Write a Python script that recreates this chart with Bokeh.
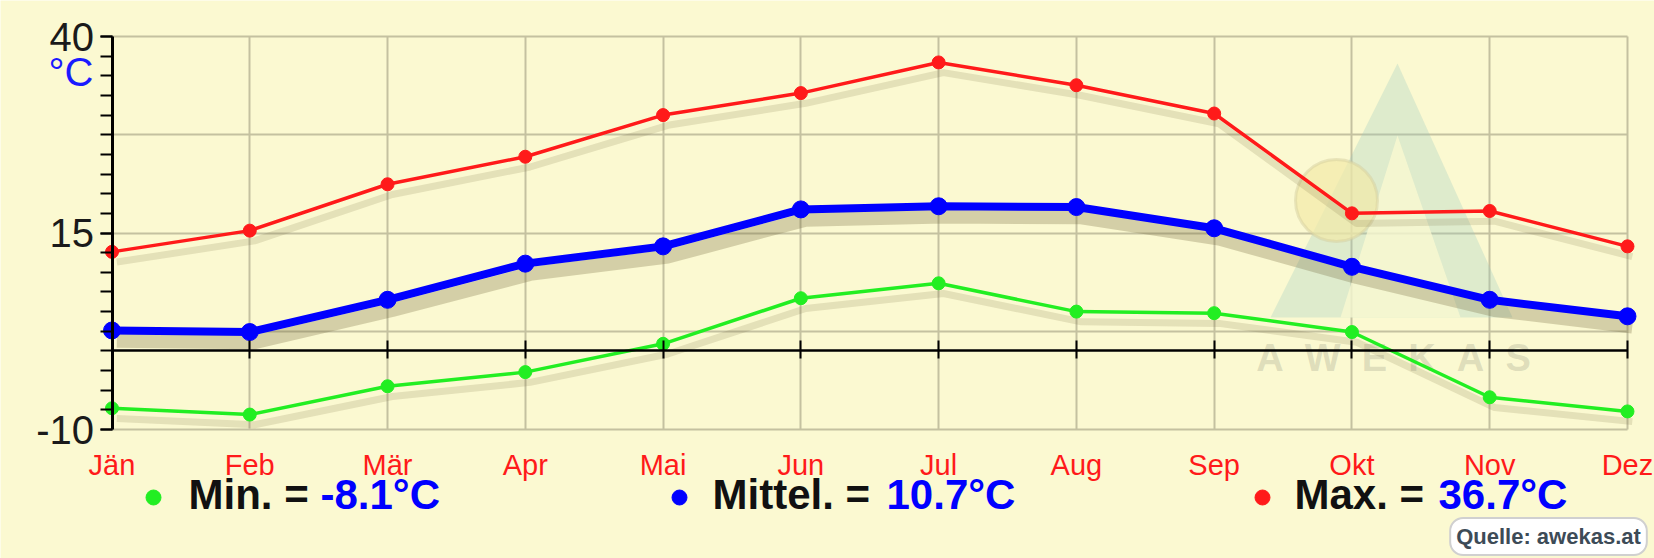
from bokeh.plotting import figure
from bokeh.models import Range1d, FixedTicker, LinearAxis, Label, ColumnDataSource, Grid
from bokeh.transform import dodge
from bokeh.core.properties import value
from bokeh.embed import file_html
from bokeh.resources import INLINE

# ---------------- data ----------------
months = ["Jän", "Feb", "Mär", "Apr", "Mai", "Jun", "Jul", "Aug", "Sep", "Okt", "Nov", "Dez"]
t_max = [12.6, 15.3, 21.2, 24.7, 30.0, 32.8, 36.7, 33.8, 30.2, 17.5, 17.8, 13.3]
t_mean = [2.6, 2.4, 6.5, 11.1, 13.3, 18.0, 18.4, 18.3, 15.6, 10.7, 6.5, 4.4]
t_min = [-7.3, -8.1, -4.5, -2.7, 0.9, 6.7, 8.6, 5.0, 4.8, 2.4, -5.9, -7.7]
y_major = [-10, 15, 40]
y_major_labels = ["-10", "15", "40"]
y_grid = [-10, 2.5, 15, 27.5, 40]
y_minor = [-10 + 2.5 * k for k in range(21)]
summary_names = ["Min. =", "Mittel. =", "Max. ="]
summary_values = [
    f"{min(t_min):.1f}°C",
    f"{sum(t_mean) / len(t_mean):.1f}°C",
    f"{max(t_max):.1f}°C",
]

# ---------------- styling ----------------
BG = "#FBF9D1"
FONT = "Liberation Sans"
RED = "#FF1A1A"
BLUE = "#0000FF"
GREEN = "#22EE22"
GRIDC = "#C4C1A0"

W, H = 1654, 558
# geometry of the chart area in canvas pixels
X0_PX, PX_PER_X = 111.5, 137.77     # Jan position, px per month
Y0_PX, PX_PER_Y = 429.0, 7.86       # -10 position, px per degree
Y_LO, Y_HI = -10, 40


def px2x(px):
    return (px - X0_PX) / PX_PER_X


def py2y(py):
    return Y_LO - (py - Y0_PX) / PX_PER_Y


xs = list(range(len(months)))
src = ColumnDataSource(dict(x=xs, tmax=t_max, tmean=t_mean, tmin=t_min))

p = figure(width=W, height=H,
           x_range=Range1d(px2x(0), px2x(W)), y_range=Range1d(py2y(H), py2y(0)),
           output_backend="svg", toolbar_location=None,
           x_axis_location=None, y_axis_location=None,
           min_border=0, min_border_left=0, min_border_right=0,
           min_border_top=0, min_border_bottom=0,
           background_fill_color=BG, border_fill_color=BG,
           outline_line_color=None)
for g in p.grid:
    g.visible = False

# grids bounded to the chart area
xg = Grid(dimension=0, ticker=FixedTicker(ticks=xs), cross_bounds=(Y_LO, Y_HI),
          grid_line_color=GRIDC, grid_line_width=2)
yg = Grid(dimension=1, ticker=FixedTicker(ticks=y_grid), cross_bounds=(0, 11),
          grid_line_color=GRIDC, grid_line_width=2)
p.add_layout(xg)
p.add_layout(yg)

# y axis at Jan
yax = LinearAxis(fixed_location=0, bounds=(Y_LO, Y_HI),
                 ticker=FixedTicker(ticks=y_major, minor_ticks=y_minor),
                 major_label_overrides=dict(zip(y_major, y_major_labels)),
                 major_tick_out=12, major_tick_in=0, minor_tick_out=12, minor_tick_in=0,
                 axis_line_width=3, axis_line_color="black",
                 major_tick_line_width=2, minor_tick_line_width=2,
                 major_label_text_font=FONT, major_label_text_font_size="40px",
                 major_label_text_color="#1a1a1a", major_label_standoff=6)
p.add_layout(yax, "left")

# month labels along the bottom of the chart area
xax = LinearAxis(fixed_location=Y_LO, bounds=(0, 11), ticker=FixedTicker(ticks=xs),
                 major_label_overrides={i: m for i, m in enumerate(months)},
                 axis_line_color=None, major_tick_line_color=None, minor_tick_line_color=None,
                 major_tick_out=0, major_tick_in=0, minor_tick_out=0, minor_tick_in=0,
                 major_label_text_color=RED, major_label_text_font=FONT,
                 major_label_text_font_size="29px", major_label_standoff=19)
p.add_layout(xax, "below")

# zero line with month ticks
zax = LinearAxis(fixed_location=0, ticker=FixedTicker(ticks=xs), bounds=(0, 11),
                 major_tick_in=10, major_tick_out=8, axis_line_width=2.5,
                 axis_line_color="black", major_tick_line_width=2,
                 major_label_text_font_size="1px", major_label_text_color=None,
                 minor_tick_line_color=None)
p.add_layout(zax, "below")

# ---------------- watermark (AWEKAS logo) ----------------
logo_outer_x = [px2x(1270), px2x(1397), px2x(1512)]
logo_outer_y = [py2y(317), py2y(63), py2y(317)]
logo_inner_x = [px2x(1340), px2x(1397), px2x(1460)]
logo_inner_y = [py2y(317), py2y(135), py2y(317)]
p.patch(logo_outer_x, logo_outer_y, fill_color="#9cc9c0", fill_alpha=0.3, line_color=None)
p.patch(logo_inner_x, logo_inner_y, fill_color=BG, fill_alpha=0.75, line_color=None)
p.scatter([px2x(1336)], [py2y(200)], size=82, fill_color="#F2EAA8", fill_alpha=0.7,
          line_color="#d6cfa0", line_alpha=0.5, line_width=3)
NB = "\u00a0\u00a0"
p.text([px2x(1393)], [py2y(357)], text=[NB.join("AWEKAS")],
       text_align="center", text_baseline="middle", text_font=value(FONT),
       text_font_style="bold", text_font_size="38px", text_color="#9a9a86", text_alpha=0.3)

# ---------------- shadows ----------------
sx = dodge("x", 0.035)
for col, w, a in [("tmin", 7, 0.16), ("tmax", 7, 0.16), ("tmean", 14, 0.28)]:
    p.line(x=sx, y=dodge(col, -1.3), source=src, line_color="#6e6338",
           line_width=w, line_alpha=a)

# ---------------- series ----------------
for col, color, lw, ms in [("tmin", GREEN, 3.5, 13), ("tmax", RED, 3.5, 13), ("tmean", BLUE, 8, 17)]:
    p.line(x="x", y=col, source=src, line_color=color, line_width=lw)
    p.scatter(x="x", y=col, source=src, size=ms, fill_color=color, line_color=color)

# ---------------- unit label ----------------
p.add_layout(Label(x=px2x(93), y=py2y(71), text="°C",
                   text_align="right", text_baseline="middle",
                   text_font=FONT, text_font_size="40px", text_color="#1a1aff"))

# ---------------- summary legend ----------------
dot_px = [153, 679, 1262]
name_px = [188, 712, 1294]
val_px = [320, 886, 1438]
dot_colors = [GREEN, BLUE, RED]
p.scatter([px2x(d) for d in dot_px], [py2y(497)] * 3, size=15,
          fill_color=dot_colors, line_color=dot_colors)
for npx, vp, nm, vl in zip(name_px, val_px, summary_names, summary_values):
    p.add_layout(Label(x=px2x(npx), y=py2y(494), text=nm, text_align="left",
                       text_baseline="middle", text_font=FONT, text_font_style="bold",
                       text_font_size="42px", text_color="#111111"))
    p.add_layout(Label(x=px2x(vp), y=py2y(494), text=vl, text_align="left",
                       text_baseline="middle", text_font=FONT, text_font_style="bold",
                       text_font_size="42px", text_color=BLUE))

# ---------------- source box ----------------
p.add_layout(Label(x=px2x(1548), y=py2y(536), text="Quelle: awekas.at",
                   text_align="center", text_baseline="middle",
                   text_font=FONT, text_font_style="bold", text_font_size="22px",
                   text_color="#3d4b57", background_fill_color="white",
                   border_line_color="#d0d0d0", border_line_width=2,
                   padding=6, border_radius=13))

open("out.html", "w").write(file_html(p, INLINE))
